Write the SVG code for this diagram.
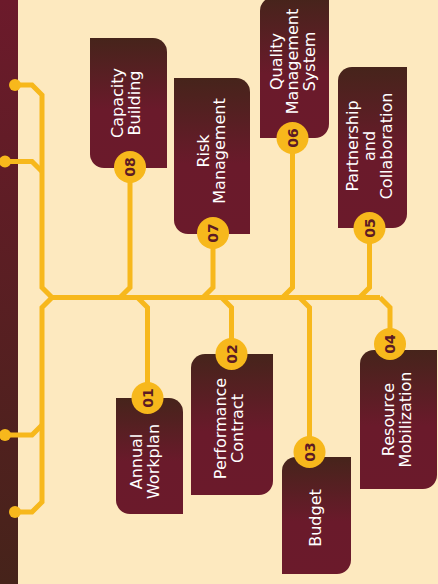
<svg xmlns="http://www.w3.org/2000/svg" width="438" height="584" viewBox="0 0 438 584">
<defs>
<linearGradient id="boxg" x1="0" y1="0" x2="0" y2="1">
<stop offset="0" stop-color="#46241b"/>
<stop offset="0.55" stop-color="#6a1a2b"/>
<stop offset="1" stop-color="#6b1a2b"/>
</linearGradient>
<linearGradient id="barg" x1="0" y1="0" x2="0" y2="1">
<stop offset="0" stop-color="#6c1a2b"/>
<stop offset="1" stop-color="#46231a"/>
</linearGradient>
</defs>
<style>
.bg{fill:#fde9bf}
.box{fill:url(#boxg)}
.ln{fill:none;stroke:#f7b81c;stroke-width:5;stroke-linejoin:miter}
.dot{fill:#f7b81c}
.num{fill:#f7b81c}
.lbl{fill:#ffffff;font-family:"DejaVu Sans","Liberation Sans",sans-serif;font-size:16px;text-anchor:middle}
.nt{fill:#5c1a24;font-family:"DejaVu Sans","Liberation Sans",sans-serif;font-size:14px;font-weight:bold;text-anchor:middle}
</style>
<rect class="bg" x="0" y="0" width="438" height="584"/>
<rect x="0" y="0" width="18" height="584" fill="url(#barg)"/>
<g id="connectors">
<path class="ln" d="M52 297.5 H380"/>
<path class="ln" d="M15 85 H32 L42 95 V287.5 L52 297.5"/>
<path class="ln" d="M5 161.5 H32 L42 171.5"/>
<path class="ln" d="M52 297.5 L42 307.5 V502 L32 512 H15"/>
<path class="ln" d="M5 435 H32 L42 425"/>
<path class="ln" d="M130 167 V287.5 L120 297.5"/>
<path class="ln" d="M213 233 V287.5 L203 297.5"/>
<path class="ln" d="M292.5 138 V287.5 L282.5 297.5"/>
<path class="ln" d="M369.5 228 V287.5 L359.5 297.5"/>
<path class="ln" d="M137.5 297.5 L147.5 307.5 V398"/>
<path class="ln" d="M221.5 297.5 L231.5 307.5 V354"/>
<path class="ln" d="M299.5 297.5 L309.5 307.5 V452"/>
<path class="ln" d="M380 297.5 L390 307.5 V344"/>
<circle class="dot" cx="15" cy="85" r="6"/>
<circle class="dot" cx="5" cy="161.5" r="6"/>
<circle class="dot" cx="5" cy="435" r="6"/>
<circle class="dot" cx="15" cy="512" r="6"/>
</g>
<g id="node08">
<path class="box" d="M90 38 H153 A14 14 0 0 1 167 52 V168 H104 A14 14 0 0 1 90 154 Z"/>
<text class="lbl" transform="translate(0,103) rotate(-90)"><tspan x="0" y="123">Capacity</tspan><tspan x="0" y="140">Building</tspan></text>
<circle class="num" cx="130" cy="167" r="16"/>
<text class="nt" transform="translate(0,167) rotate(-90)" x="0" y="135">08</text>
</g>
<g id="node07">
<path class="box" d="M174 78 H236 A14 14 0 0 1 250 92 V234 H188 A14 14 0 0 1 174 220 Z"/>
<text class="lbl" transform="translate(0,151) rotate(-90)"><tspan x="0" y="208.5">Risk</tspan><tspan x="0" y="225">Management</tspan></text>
<circle class="num" cx="213" cy="233" r="16"/>
<text class="nt" transform="translate(0,233) rotate(-90)" x="0" y="218">07</text>
</g>
<g id="node06">
<path class="box" d="M260 11 A14 14 0 0 1 274 -3 H329 V124 A14 14 0 0 1 315 138 H260 Z"/>
<text class="lbl" transform="translate(0,61.5) rotate(-90)"><tspan x="0" y="281.5">Quality</tspan><tspan x="0" y="298">Management</tspan><tspan x="0" y="314.5">System</tspan></text>
<circle class="num" cx="292.5" cy="138" r="16"/>
<text class="nt" transform="translate(0,138) rotate(-90)" x="0" y="297.5">06</text>
</g>
<g id="node05">
<path class="box" d="M338 81 A14 14 0 0 1 352 67 H407 V214 A14 14 0 0 1 393 228 H338 Z"/>
<text class="lbl" transform="translate(0,146) rotate(-90)"><tspan x="0" y="358">Partnership</tspan><tspan x="0" y="374.5">and</tspan><tspan x="0" y="391.5">Collaboration</tspan></text>
<circle class="num" cx="369.5" cy="228" r="16"/>
<text class="nt" transform="translate(0,228) rotate(-90)" x="0" y="374.5">05</text>
</g>
<g id="node01">
<path class="box" d="M116 398 H169 A14 14 0 0 1 183 412 V514 H130 A14 14 0 0 1 116 500 Z"/>
<text class="lbl" transform="translate(0,461.5) rotate(-90)"><tspan x="0" y="142">Annual</tspan><tspan x="0" y="158.5">Workplan</tspan></text>
<circle class="num" cx="147.5" cy="398" r="16"/>
<text class="nt" transform="translate(0,398) rotate(-90)" x="0" y="152.5">01</text>
</g>
<g id="node02">
<path class="box" d="M191 368 A14 14 0 0 1 205 354 H273 V481 A14 14 0 0 1 259 495 H191 Z"/>
<text class="lbl" transform="translate(0,428.5) rotate(-90)"><tspan x="0" y="226">Performance</tspan><tspan x="0" y="242.5">Contract</tspan></text>
<circle class="num" cx="231.5" cy="354" r="16"/>
<text class="nt" transform="translate(0,354) rotate(-90)" x="0" y="236.5">02</text>
</g>
<g id="node03">
<path class="box" d="M282 471 A14 14 0 0 1 296 457 H351 V560 A14 14 0 0 1 337 574 H282 Z"/>
<text class="lbl" transform="translate(0,518) rotate(-90)"><tspan x="0" y="321">Budget</tspan></text>
<circle class="num" cx="309.5" cy="452" r="16"/>
<text class="nt" transform="translate(0,452) rotate(-90)" x="0" y="314.5">03</text>
</g>
<g id="node04">
<path class="box" d="M360 364 A14 14 0 0 1 374 350 H437 V475 A14 14 0 0 1 423 489 H360 Z"/>
<text class="lbl" transform="translate(0,419.5) rotate(-90)"><tspan x="0" y="394">Resource</tspan><tspan x="0" y="410.5">Mobilization</tspan></text>
<circle class="num" cx="390" cy="344" r="16"/>
<text class="nt" transform="translate(0,344) rotate(-90)" x="0" y="395">04</text>
</g>
</svg>
